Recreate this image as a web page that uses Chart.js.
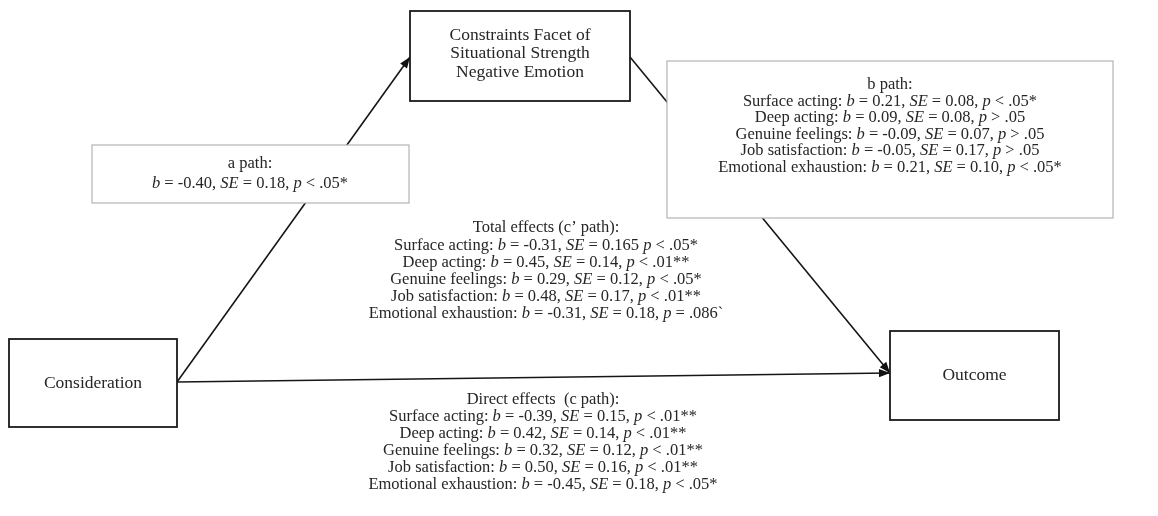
<!DOCTYPE html>
<html>
<head>
<meta charset="utf-8">
<script src="https://cdn.jsdelivr.net/npm/chart.js@4.4.1/dist/chart.umd.min.js"></script>
<style>
  html, body { margin: 0; padding: 0; background: #fff; }
  canvas { display: block; }
</style>
</head>
<body>
<canvas id="diagram" width="1158" height="516"></canvas>
<script>
// ---- Model values ----
const predictorName = 'Consideration';
const mediatorName = ['Constraints Facet of', 'Situational Strength', 'Negative Emotion'];
const outcomeName = 'Outcome';

const outcomes = ['Surface acting', 'Deep acting', 'Genuine feelings', 'Job satisfaction', 'Emotional exhaustion'];

// a path (predictor -> mediator)
const aPathB = -0.40;
const aPathSE = 0.18;
const aPathP = '< .05*';

// b path (mediator -> each outcome)
const bPathB = [0.21, 0.09, -0.09, -0.05, 0.21];
const bPathSE = [0.08, 0.08, 0.07, 0.17, 0.10];
const bPathP = ['< .05*', '> .05', '> .05', '> .05', '< .05*'];

// total effects (c' path)
const totalB = [-0.31, 0.45, 0.29, 0.48, -0.31];
const totalSE = [0.165, 0.14, 0.12, 0.17, 0.18];
const totalP = ['< .05*', '< .01**', '< .05*', '< .01**', '= .086`'];
const totalSep = [' ', ', ', ', ', ', ', ', '];

// direct effects (c path)
const directB = [-0.39, 0.42, 0.32, 0.50, -0.45];
const directSE = [0.15, 0.14, 0.12, 0.16, 0.18];
const directP = ['< .01**', '< .01**', '< .01**', '< .01**', '< .05*'];

// ---- Layout (diagram units = canvas pixels) ----
const W = 1158, H = 516;
const layout = {
  predictor: { x0: 9, y0: 339, x1: 177, y1: 427 },
  mediator:  { x0: 410, y0: 11, x1: 630, y1: 101 },
  outcome:   { x0: 890, y0: 331, x1: 1059, y1: 420 },
  aBox:      { x0: 92, y0: 145, x1: 409, y1: 203 },
  bBox:      { x0: 667, y0: 61, x1: 1113, y1: 218 },
  aText:     { cx: 250, y: 164, step: 20 },
  bText:     { cx: 890, y: 85, step: 16.5 },
  totalText: { cx: 546, y: 228, step: 17.2 },
  directText:{ cx: 543, y: 400, step: 17 },
  mediatorText: { y: 35, step: 18.5 },
  anchors: {
    predOut: 382,   // y where paths leave the predictor box
    medIn: 57,      // y where the a path enters the mediator box
    medOut: 57,     // y where the b path leaves the mediator box
    outIn: 373      // y where paths enter the outcome box
  }
};

const FONT = '"Liberation Serif", "Times New Roman", serif';
const STAT_SIZE = 16.5;
const NODE_SIZE = 17.5;
const INK = '#262626';

function fmt(v) {
  const s = String(Math.abs(v));
  const d = (s.split('.')[1] || '').length;
  return v.toFixed(Math.max(2, d));
}

function statSegments(label, b, se, p, sep) {
  const segs = [];
  if (label) segs.push([label + ': ', false]);
  segs.push(['b', true], [' = ' + fmt(b) + ', ', false],
            ['SE', true], [' = ' + fmt(se) + (sep === undefined ? ', ' : sep), false],
            ['p', true], [' ' + p, false]);
  return segs;
}

const aLines = [
  [['a path:', false]],
  statSegments(null, aPathB, aPathSE, aPathP)
];
const bLines = [[['b path:', false]]].concat(
  outcomes.map((o, i) => statSegments(o, bPathB[i], bPathSE[i], bPathP[i])));
const totalLines = [[['Total effects (c\u2019 path):', false]]].concat(
  outcomes.map((o, i) => statSegments(o, totalB[i], totalSE[i], totalP[i], totalSep[i])));
const directLines = [[['Direct effects  (c path):', false]]].concat(
  outcomes.map((o, i) => statSegments(o, directB[i], directSE[i], directP[i])));

// Path lines between boxes, as line datasets
const L = layout, A = layout.anchors;
const pathA = [{ x: L.predictor.x1, y: A.predOut }, { x: L.mediator.x0, y: A.medIn }];
const pathB = [{ x: L.mediator.x1, y: A.medOut }, { x: L.outcome.x0, y: A.outIn }];
const pathC = [{ x: L.predictor.x1, y: A.predOut }, { x: L.outcome.x0, y: A.outIn }];

function lineSet(data) {
  return {
    data, showLine: true, borderColor: '#161616', borderWidth: 1.6,
    pointRadius: 0, fill: false, clip: false, tension: 0
  };
}

function drawRich(ctx, segs, cx, cy, size) {
  let total = 0;
  const widths = segs.map(([t, it]) => {
    ctx.font = (it ? 'italic ' : '') + size + 'px ' + FONT;
    const w = ctx.measureText(t).width;
    total += w;
    return w;
  });
  let x = cx - total / 2;
  segs.forEach(([t, it], i) => {
    ctx.font = (it ? 'italic ' : '') + size + 'px ' + FONT;
    ctx.fillText(t, x, cy);
    x += widths[i];
  });
}

const diagramPlugin = {
  id: 'diagram',
  afterDatasetsDraw(chart) {
    const ctx = chart.ctx;
    const sx = chart.scales.x, sy = chart.scales.y;
    const px = v => sx.getPixelForValue(v);
    const py = v => sy.getPixelForValue(v);

    ctx.save();
    // arrowheads at the end of each path
    chart.data.datasets.forEach(ds => {
      const p0 = ds.data[0], p1 = ds.data[ds.data.length - 1];
      const x0 = px(p0.x), y0 = py(p0.y), x1 = px(p1.x), y1 = py(p1.y);
      const ang = Math.atan2(y1 - y0, x1 - x0);
      const len = 11, half = 4.2;
      ctx.fillStyle = '#111';
      ctx.beginPath();
      ctx.moveTo(x1, y1);
      ctx.lineTo(x1 - len * Math.cos(ang) + half * Math.sin(ang), y1 - len * Math.sin(ang) - half * Math.cos(ang));
      ctx.lineTo(x1 - len * Math.cos(ang) - half * Math.sin(ang), y1 - len * Math.sin(ang) + half * Math.cos(ang));
      ctx.closePath();
      ctx.fill();
    });

    function box(b, stroke, lw) {
      const x = px(b.x0), y = py(b.y0), w = px(b.x1) - x, h = py(b.y1) - y;
      ctx.fillStyle = '#fff';
      ctx.fillRect(x, y, w, h);
      ctx.strokeStyle = stroke;
      ctx.lineWidth = lw;
      ctx.strokeRect(x, y, w, h);
    }
    box(L.aBox, '#b4b4b4', 1.2);
    box(L.bBox, '#b4b4b4', 1.2);
    box(L.predictor, '#1a1a1a', 1.8);
    box(L.mediator, '#1a1a1a', 1.8);
    box(L.outcome, '#1a1a1a', 1.8);

    ctx.fillStyle = INK;
    ctx.textBaseline = 'middle';
    ctx.textAlign = 'left';

    const block = (lines, t, size) => lines.forEach((segs, i) =>
      drawRich(ctx, segs, px(t.cx), py(t.y + i * t.step), size));

    block(aLines, L.aText, STAT_SIZE);
    block(bLines, L.bText, STAT_SIZE);
    block(totalLines, L.totalText, STAT_SIZE);
    block(directLines, L.directText, STAT_SIZE);

    const medCx = (L.mediator.x0 + L.mediator.x1) / 2;
    mediatorName.forEach((t, i) =>
      drawRich(ctx, [[t, false]], px(medCx), py(L.mediatorText.y + i * L.mediatorText.step), NODE_SIZE));
    drawRich(ctx, [[predictorName, false]], px((L.predictor.x0 + L.predictor.x1) / 2),
             py((L.predictor.y0 + L.predictor.y1) / 2), NODE_SIZE);
    drawRich(ctx, [[outcomeName, false]], px((L.outcome.x0 + L.outcome.x1) / 2),
             py((L.outcome.y0 + L.outcome.y1) / 2), NODE_SIZE);
    ctx.restore();
  }
};

new Chart(document.getElementById('diagram'), {
  type: 'scatter',
  data: { datasets: [lineSet(pathA), lineSet(pathB), lineSet(pathC)] },
  options: {
    responsive: false,
    devicePixelRatio: 1,
    animation: false,
    events: [],
    layout: { padding: 0 },
    plugins: { legend: { display: false }, tooltip: { enabled: false } },
    scales: {
      x: { type: 'linear', min: 0, max: W, display: false },
      y: { type: 'linear', min: 0, max: H, reverse: true, display: false }
    }
  },
  plugins: [diagramPlugin]
});
</script>
</body>
</html>
